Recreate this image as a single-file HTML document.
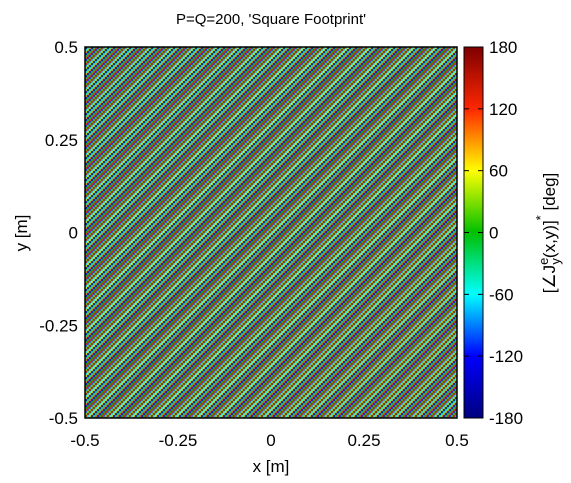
<!DOCTYPE html>
<html><head><meta charset="utf-8"><style>
body{margin:0;background:#fff;width:571px;height:483px;overflow:hidden;font-family:"Liberation Sans",sans-serif;}
</style></head><body>
<svg width="571" height="483" style="position:absolute;left:0;top:0">
<foreignObject x="85" y="47" width="372" height="371"><canvas xmlns="http://www.w3.org/1999/xhtml" id="hm" width="372" height="371"></canvas></foreignObject>
<foreignObject x="464" y="47" width="19" height="371"><canvas xmlns="http://www.w3.org/1999/xhtml" id="cb" width="19" height="371"></canvas></foreignObject>
<g id="ax" font-size="17" fill="#000"></g>
</svg>
<script>
const xTicks=[-0.5,-0.25,0,0.25,0.5];
const xTickLabels=["-0.5","-0.25","0","0.25","0.5"];
const yTicks=[-0.5,-0.25,0,0.25,0.5];
const yTickLabels=["-0.5","-0.25","0","0.25","0.5"];
const cbTicks=[-180,-120,-60,0,60,120,180];
const cbStops=[[-180,[0,0,128]],[-120,[0,0,255]],[-60,[0,255,255]],[0,[0,192,0]],[60,[255,255,0]],[120,[255,40,0]],[180,[128,0,0]]];
const nCells=186;
const phaseStepDeg=131;
const L=85,R=457,T=47,B=418;
const sx=v=>L+(v+0.5)*(R-L), sy=v=>B-(v+0.5)*(B-T), sc=v=>B-(v+180)/360*(B-T);
function cmap(d){for(let i=1;i<cbStops.length;i++){if(d<=cbStops[i][0]){const a=cbStops[i-1],b=cbStops[i],t=(d-a[0])/(b[0]-a[0]);return a[1].map((c,k)=>Math.round(c+(b[1][k]-c)*t));}}return cbStops[cbStops.length-1][1];}
const hm=document.getElementById('hm').getContext('2d');
for(let i=0;i<nCells;i++)for(let j=0;j<nCells;j++){let p=(((i+j)*phaseStepDeg)%360+360)%360-180;const c=cmap(p);hm.fillStyle=`rgb(${c})`;hm.fillRect(i*2,j*2,2,2);}
const cb=document.getElementById('cb').getContext('2d');
for(let y=0;y<371;y++){const c=cmap(180-y/370*360);cb.fillStyle=`rgb(${c})`;cb.fillRect(0,y,19,1);}
const ax=document.getElementById('ax');const NS='http://www.w3.org/2000/svg';
function el(t,a,txt){const e=document.createElementNS(NS,t);for(const k in a)e.setAttribute(k,a[k]);if(txt!==undefined)e.textContent=txt;ax.appendChild(e);return e;}
let f=el('rect',{x:L,y:T,width:R-L,height:B-T,fill:'none',stroke:'#000','stroke-width':1.5});


f=el('rect',{x:464,y:T,width:19,height:B-T,fill:'none',stroke:'#000','stroke-width':1});


xTicks.forEach((v,i)=>{const t=el('text',{x:sx(v),y:446,'text-anchor':'middle'},xTickLabels[i]);

});
yTicks.forEach((v,i)=>{const t=el('text',{x:78,y:sy(v)+6,'text-anchor':'end'},yTickLabels[i]);

});
cbTicks.forEach(v=>{const t=el('text',{x:489,y:sc(v)+6,'text-anchor':'start'},String(v));


if(v>-180&&v<180){const a=el('line',{x1:464,x2:469,y1:sc(v),y2:sc(v),stroke:'#000'});const b=el('line',{x1:478,x2:483,y1:sc(v),y2:sc(v),stroke:'#000'});}});
let t=el('text',{x:271,y:24,'text-anchor':'middle','font-size':15},"P=Q=200, 'Square Footprint'");


t=el('text',{x:271,y:472,'text-anchor':'middle'},"x [m]");


t=el('text',{x:27,y:233,'text-anchor':'middle',transform:'rotate(-90 27 233)'},"y [m]");


t=el('text',{x:555,y:233,'text-anchor':'middle',transform:'rotate(-90 555 233)'});


t.innerHTML='[∠J<tspan font-size="13" dy="-7">e</tspan><tspan font-size="13" dx="-7" dy="12">y</tspan><tspan dy="-5">(x,y)]</tspan><tspan font-size="13" dy="-10">*</tspan><tspan dy="10"> [deg]</tspan>';
</script>
</body></html>
